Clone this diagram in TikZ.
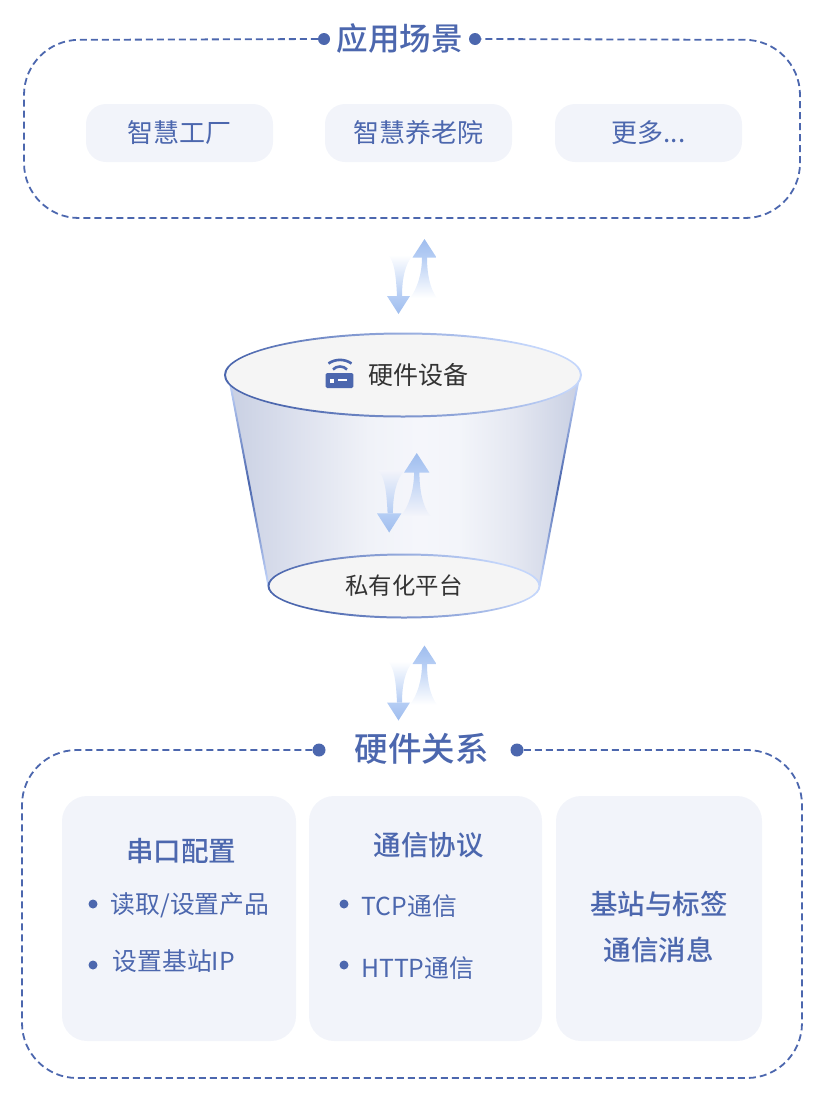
\documentclass[tikz,border=0pt]{standalone}
\usepackage{fontspec}
\setmainfont{Noto Sans CJK SC}
\newfontfamily\medfont{Noto Sans CJK SC Medium}
\usetikzlibrary{shapes.geometric}
\definecolor{inkblue}{HTML}{4C67AE}
\definecolor{softbox}{HTML}{F2F4FA}
\definecolor{rimlight}{HTML}{C4D6FB}
\definecolor{flowblue}{HTML}{B5CDF4}
\definecolor{flowdeep}{HTML}{9FBDEE}
\definecolor{wallgrey}{HTML}{C9D0E3}
\definecolor{wallmidL}{HTML}{DDE1EE}
\definecolor{wallmidM}{HTML}{F0F2F8}
\definecolor{walltop}{HTML}{F5F6FB}
\definecolor{wallmidN}{HTML}{F3F5FA}
\definecolor{wallmidR}{HTML}{E4E7F1}
\definecolor{wallpale}{HTML}{F3F4FA}
\definecolor{discgrey}{HTML}{F5F5F5}
\definecolor{inkgrey}{HTML}{333333}
\pgfdeclarehorizontalshading{wallshade}{100bp}{color(0bp)=(wallgrey); color(25bp)=(wallgrey); color(35bp)=(wallmidL); color(45bp)=(wallmidM); color(52bp)=(walltop); color(58bp)=(wallmidN); color(66bp)=(wallmidR); color(75bp)=(wallgrey); color(100bp)=(wallgrey)}
\tikzset{
  frameline/.style={draw=inkblue, line width=1.8pt, dash pattern=on 7pt off 4pt, rounded corners=55pt},
  dotmark/.style={circle, fill=inkblue, inner sep=0pt, minimum size=#1},
  pill/.style={fill=softbox, rounded corners=20pt, minimum height=58pt, inner sep=0pt, text=inkblue, font=\fontsize{26}{30}\selectfont},
  panel/.style={fill=softbox, rounded corners=25pt, minimum height=245pt, inner sep=0pt},
  headline/.style={text=inkblue, inner sep=0pt, font=\medfont\fontsize{#1}{34}\selectfont},
  itemtext/.style={text=inkblue, inner sep=0pt, anchor=west, font=\fontsize{24.8}{30}\selectfont},
  rimline/.style={even odd rule, top color=rimlight, bottom color=inkblue, shading angle=-50},
  edgeline/.style={top color=rimlight, bottom color=rimlight, middle color=inkblue},
  pics/swaparrows/.style={code={
    \shade[top color=#1, bottom color=flowblue] (1,16) .. controls (7,22) and (9,35) .. (10,57) -- (15,57) .. controls (15,40) and (18,25) .. (26,16) -- cycle;
    \shade[top color=flowblue, bottom color=flowdeep] (0,57) -- (23,57) -- (11.5,75) -- cycle;
    \shade[top color=flowblue, bottom color=#1] (35,18) .. controls (35,35) and (30,50) .. (23,59) -- (50,59) .. controls (43,50) and (40,35) .. (40,18) -- cycle;
    \shade[top color=flowdeep, bottom color=flowblue] (37.5,0) -- (25.5,18.5) -- (49.5,18.5) -- cycle;
  }}
}
\begin{document}
\begin{tikzpicture}[x=1pt, y=-1pt]
\useasboundingbox (0,0) rectangle (828,1114);
% top frame
\node[dotmark=12pt] (appdotL) at (324,39) {};
\node[dotmark=12pt] (appdotR) at (475,39) {};
\node[headline=31.5] (apptitle) at (399.5,38) {应用场景};
\draw[frameline] (appdotL) -- (24,40) -- (24,218) -- (800,218) -- (800,40) -- (appdotR);
\node[pill, minimum width=187pt] (factory) at (179.5,133) {智慧工厂};
\node[pill, minimum width=187pt] (nursing) at (418.5,133) {智慧养老院};
\node[pill, minimum width=187pt] (more) at (648.5,133) {更多...};
\pic at (387,239) {swaparrows=white};
% funnel
\shade[shading=wallshade] (229,380) -- (578,380) -- (540,586) -- (268,586) -- cycle;
\shade[edgeline] (228.5,380) -- (230.5,380) -- (269.5,586) -- (267.5,586) -- cycle;
\shade[edgeline] (577.5,380) -- (579.5,380) -- (540.5,586) -- (538.5,586) -- cycle;
\pic[scale=1.06] at (377,453) {swaparrows=wallpale};
\node[ellipse, fill=discgrey, minimum width=356pt, minimum height=83pt, inner sep=0pt] (device) at (403,375) {};
\shade[rimline] (403,375) circle[x radius=179, y radius=42.5] (403,375) circle[x radius=177, y radius=40.5];
\node[ellipse, fill=discgrey, minimum width=271pt, minimum height=63pt, inner sep=0pt, text=inkgrey, font=\fontsize{23.4}{28}\selectfont] (platform) at (404,586) {私有化平台};
\shade[rimline] (404,586) circle[x radius=136.5, y radius=32.5] (404,586) circle[x radius=134.5, y radius=30.5];
% router icon
\fill[inkblue, rounded corners=1.5pt] (325.7,388) -- (325.7,373) -- (353.3,373) -- (353.3,388) -- cycle;
\fill[white] (330,378.5) rectangle (334,382.5);
\fill[white] (338,379.3) rectangle (347,381.3);
\draw[inkblue, line width=2.6pt] (333,369.5) .. controls (336.5,365.5) and (343.5,365.5) .. (347,369.5);
\draw[inkblue, line width=2.6pt] (328.5,363.5) .. controls (335,358.7) and (345,358.7) .. (351.5,363.5);
\node[inner sep=0pt, text=inkgrey, font=\fontsize{25}{30}\selectfont] (devicetext) at (418.5,375) {硬件设备};
\pic at (387,645.5) {swaparrows=white};
% bottom frame
\node[dotmark=13pt] (reldotL) at (319,750) {};
\node[dotmark=13pt] (reldotR) at (517,750) {};
\node[headline=33.5] (reltitle) at (421.5,749) {硬件关系};
\draw[frameline] (reldotL) -- (22,750) -- (22,1078) -- (802,1078) -- (802,750) -- (reldotR);
\node[panel, minimum width=234pt] (serial) at (179,918.5) {};
\node[panel, minimum width=233pt] (protocol) at (425.5,918.5) {};
\node[panel, minimum width=206pt] (message) at (659,918.5) {};
\node[headline=27.5] (serialhead) at (181,851) {串口配置};
\node[dotmark=9pt] (bulletA) at (93,904) {};
\node[itemtext] (itemA) at (110.5,905) {读取/设置产品};
\node[dotmark=9pt] (bulletB) at (93,965) {};
\node[itemtext] (itemB) at (112.5,961) {设置基站IP};
\node[headline=27.5] (protocolhead) at (428.5,845) {通信协议};
\node[dotmark=9pt] (bulletC) at (344,904) {};
\node[itemtext] (itemC) at (361.5,906) {TCP通信};
\node[dotmark=9pt] (bulletD) at (344,965) {};
\node[itemtext] (itemD) at (361,968) {HTTP通信};
\node[headline=27.5] (messageA) at (659,904) {基站与标签};
\node[headline=27.5] (messageB) at (658.5,950) {通信消息};
\end{tikzpicture}
\end{document}
